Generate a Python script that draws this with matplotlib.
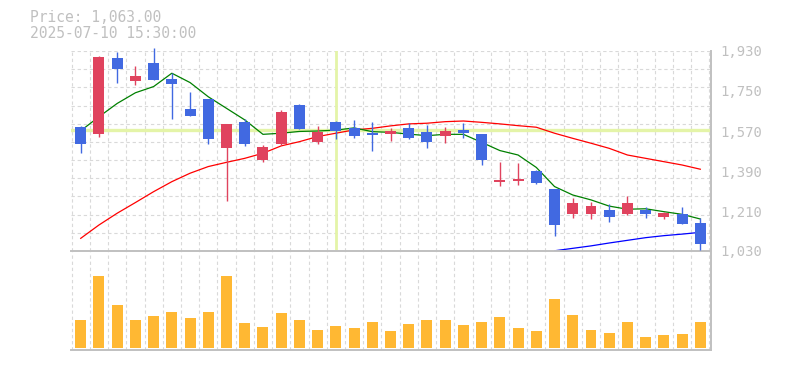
import numpy as np
import matplotlib.pyplot as plt

# 35 trading days, 2025-06-13 .. 2025-08-01
tick_idx = [4, 9, 14, 19, 24, 29, 34]
tick_lbl = ["6/19", "6/26", "7/3", "7/10", "7/17", "7/25", "8/1"]

opens = [1586, 1556, 1898, 1796, 1876, 1804, 1669, 1714, 1495, 1610, 1441, 1513,
         1687, 1522, 1610, 1583, 1561, 1558, 1583, 1565, 1549, 1574, 1556, 1342,
         1346, 1390, 1309, 1198, 1198, 1214, 1198, 1214, 1184, 1198, 1156]
highs = [1592, 1906, 1925, 1862, 1945, 1832, 1745, 1714, 1601, 1622, 1507, 1664,
         1690, 1592, 1615, 1619, 1610, 1583, 1606, 1597, 1588, 1606, 1556, 1429,
         1424, 1394, 1309, 1268, 1250, 1241, 1277, 1228, 1205, 1228, 1178]
lows = [1472, 1544, 1787, 1778, 1801, 1625, 1639, 1513, 1256, 1504, 1432, 1505,
        1580, 1513, 1535, 1540, 1481, 1526, 1535, 1495, 1517, 1540, 1418, 1324,
        1328, 1331, 1099, 1180, 1175, 1162, 1193, 1180, 1175, 1153, 1036]
closes = [1513, 1904, 1850, 1817, 1801, 1783, 1639, 1535, 1601, 1513, 1498, 1655,
          1580, 1565, 1571, 1549, 1553, 1570, 1540, 1522, 1570, 1562, 1441, 1349,
          1354, 1336, 1148, 1246, 1232, 1184, 1246, 1198, 1201, 1153, 1063]

ma_short = [1571, 1634, 1694, 1742, 1770, 1830, 1788, 1724, 1672, 1620, 1555, 1560,
            1568, 1570, 1574, 1584, 1567, 1564, 1556, 1549, 1555, 1555, 1519, 1482,
            1462, 1406, 1320, 1282, 1260, 1232, 1218, 1220, 1207, 1195, 1174]
ma_long = [1087, 1147, 1200, 1248, 1297, 1342, 1380, 1410, 1429, 1447, 1470, 1503,
           1522, 1545, 1560, 1575, 1582, 1593, 1602, 1605, 1612, 1615, 1609, 1602,
           1594, 1587, 1560, 1537, 1515, 1492, 1462, 1447, 1432, 1417, 1398]
ma_mid = [np.nan] * 26 + [1031, 1042, 1053, 1066, 1078, 1090, 1099, 1106, 1114]

volume = [84, 214, 129, 84, 96, 108, 90, 108, 214, 75, 63, 105, 84, 54, 66, 60, 78, 51,
          72, 84, 84, 69, 78, 93, 60, 51, 147, 99, 54, 45, 78, 33, 39, 42, 78]

cross_idx = 14
cross_price = 1575

up_c = "#e0435e"
dn_c = "#4169e1"
txt_c = "#c0c0c0"
grid_c = "#d9d9d9"

x = np.arange(len(closes))
W, H = 785, 370
fig = plt.figure(figsize=(W / 100, H / 100), dpi=100)
ax = fig.add_axes([70.7 / W, (H - 251) / H, 640 / W, 200 / H])
axv = fig.add_axes([70.7 / W, (H - 350) / H, 640 / W, 98 / H])

for a in (ax, axv):
    a.set_xlim(-0.55, 34.57)
    for s in ("top", "left"):
        a.spines[s].set_visible(False)
    for s in ("bottom", "right"):
        a.spines[s].set_color(txt_c)
        a.spines[s].set_linewidth(1.4)
    for gx in np.arange(-0.5, 35, 1):
        a.axvline(gx, color=grid_c, lw=0.8, ls=(0, (3, 2.5)), zorder=0)

ax.set_ylim(1030, 1930)
for gy in np.linspace(1030, 1930, 12):
    ax.axhline(gy, color=grid_c, lw=0.8, ls=(0, (3, 2.5)), zorder=0)

# crosshair
ax.axvline(cross_idx, color="#e4f4a8", lw=2, zorder=1)
ax.axhline(cross_price, color="#e4f4a8", lw=2.4, zorder=1)

ax.plot(x, ma_long, color="#ff0000", lw=0.9, zorder=2)
ax.plot(x, ma_short, color="#008000", lw=0.9, zorder=2)
ax.plot(x, ma_mid, color="#0000ff", lw=0.9, zorder=2)

for i in range(len(closes)):
    col = up_c if closes[i] >= opens[i] else dn_c
    ax.vlines(x[i], lows[i], highs[i], color=col, lw=1.0, zorder=3, clip_on=False)
    lo, hi = min(opens[i], closes[i]), max(opens[i], closes[i])
    ax.bar(x[i], max(hi - lo, 3), bottom=lo, width=0.6, color=col, zorder=4)

ax.yaxis.tick_right()
ax.set_yticks(np.arange(1030, 1931, 180))
ax.set_yticklabels([f"{v:,}" for v in range(1030, 1931, 180)])
ax.tick_params(axis="y", length=0, pad=7, labelcolor=txt_c, labelsize=10)
for t in ax.get_yticklabels():
    t.set_family("DejaVu Sans Mono")
ax.set_xticks(tick_idx)
ax.set_xticklabels(tick_lbl, family="DejaVu Sans", fontsize=8, color=txt_c)
ax.tick_params(axis="x", length=0, pad=5)

axv.bar(x, volume, width=0.6, color="#ffb833", zorder=2)
axv.set_ylim(-7.5, 286.5)
axv.set_xticks([])
axv.set_yticks([])

fig.text(30 / W, 1 - 18 / H, "Price: 1,063.00", family="DejaVu Sans Mono",
         fontsize=10.5, color=txt_c, va="center", ha="left")
fig.text(30 / W, 1 - 33.3 / H, "2025-07-10 15:30:00", family="DejaVu Sans Mono",
         fontsize=10.5, color=txt_c, va="center", ha="left")

fig.savefig("out.png", dpi=100)
